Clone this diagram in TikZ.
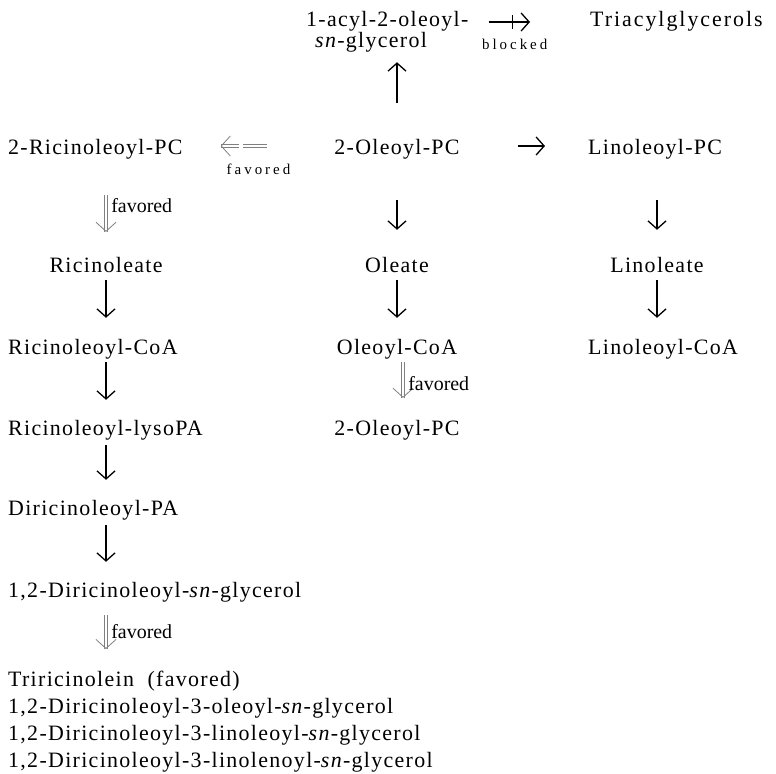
\documentclass[tikz,border=0pt]{standalone}
\usepackage{fontspec}
\setmainfont{Liberation Serif}
\usetikzlibrary{arrows.meta, positioning}
\tikzset{
    chem/.style={ %compound names
      inner sep=0pt,
      anchor=base west,
      text height=15bp, text depth=5bp,
      font=\fontsize{22}{27}\selectfont\addfontfeature{LetterSpace=6},
    },
    chemblock/.style={ %names on several lines
      chem, anchor=north west, align=left,
      text height=, text depth=,
    },
    conv/.style={ %plain conversion
      line width=1.3bp,
      -{Straight Barb[length=8bp, width=18bp]},
    },
    fav/.style={ %favored route (open double arrow)
      draw=gray, double=white, double distance=2.6bp, line width=0.7bp,
      postaction={draw=white, line width=0.2bp,
        -{Straight Barb[length=9bp, width=20bp, line width=0.8bp, color=gray]}},
    },
    favtext/.style={font=\fontsize{20}{24}\selectfont, inner sep=5bp},
    spaced/.style={font=\fontsize{15}{18}\selectfont\addfontfeature{LetterSpace=20}, inner sep=0pt},
}
\begin{document}
\begin{tikzpicture}[x=1bp, y=-1bp]
    \useasboundingbox (0,0) rectangle (776,774);

    % top
    \node[chemblock, font=\fontsize{22}{21}\selectfont\addfontfeature{LetterSpace=6}] (dag) at (306,11)
        {1-acyl-2-oleoyl-\\\hspace*{9bp}\textit{sn}-glycerol};
    \node[chem, font=\fontsize{22}{27}\selectfont\addfontfeature{LetterSpace=9}] (tag) at (590,27) {Triacylglycerols};

    % PC row
    \node[chem] (rpc) at (8,154) {2-Ricinoleoyl-PC};
    \node[chem, anchor=base] (opc) at (397,154) {2-Oleoyl-PC};
    \node[chem] (lpc) at (588,154) {Linoleoyl-PC};

    % fatty acids
    \node[chem, anchor=base] (rlt) at (106,272) {Ricinoleate};
    \node[chem, anchor=base] (olt) at (397,272) {Oleate};
    \node[chem, anchor=base] (llt) at (657,272) {Linoleate};

    % CoA esters
    \node[chem] (rcoa) at (8,354) {Ricinoleoyl-CoA};
    \node[chem, anchor=base] (ocoa) at (397,354) {Oleoyl-CoA};
    \node[chem] (lcoa) at (588,354) {Linoleoyl-CoA};

    % ricinoleate route
    \node[chem] (rlyso) at (8,435) {Ricinoleoyl-lysoPA};
    \node[chem, anchor=base] (opc2) at (397,435) {2-Oleoyl-PC};
    \node[chem] (dipa) at (8,515) {Diricinoleoyl-PA};
    \node[chem] (dag12) at (8,597) {1,2-Diricinoleoyl-\textit{sn}-glycerol};
    \node[chemblock] (tgs) at (8,671)
        {Triricinolein\ \ (favored)\\
         1,2-Diricinoleoyl-3-oleoyl-\textit{sn}-glycerol\\
         1,2-Diricinoleoyl-3-linoleoyl-\textit{sn}-glycerol\\
         1,2-Diricinoleoyl-3-linolenoyl-\textit{sn}-glycerol};

    % horizontal steps
    \draw[conv, shorten <=20bp, shorten >=60bp] (dag.east |- tag.west) --
        coordinate[pos=0.36] (blk)
        node[spaced, pos=0.38, below=16bp] {blocked} (tag.west);
    \draw[line width=1.1bp] ([yshift=7bp]blk) -- ([yshift=-7bp]blk);
    \draw[fav, dash pattern=on 24bp off 4bp on 40bp, shorten <=67bp, shorten >=38bp] ([yshift=3bp]opc.west) --
        node[spaced, midway, below=18bp] {favored} ([yshift=3bp]rpc.east);
    \draw[conv, shorten <=58bp, shorten >=43bp] ([yshift=3bp]opc.east) -- ([yshift=3bp]lpc.west);

    % vertical steps
    \draw[conv, shorten <=36bp, shorten >=10bp] (opc.north) -- (opc.north |- dag.south);
    \draw[conv, shorten <=41bp, shorten >=27bp] (olt |- opc.south) -- (olt.north);
    \draw[conv, shorten <=41bp, shorten >=27bp] (llt |- lpc.south) -- (llt.north);
    \draw[fav, shorten <=36bp, shorten >=25bp] (rlt |- rpc.south) --
        node[favtext, pos=0.48, right] {favored} (rlt.north);
    \draw[conv, shorten <=3bp, shorten >=21bp] (rlt.south) -- (rlt.south |- rcoa.north);
    \draw[conv, shorten <=3bp, shorten >=21bp] (olt.south) -- (ocoa.north);
    \draw[conv, shorten <=3bp, shorten >=21bp] (llt.south) -- (llt.south |- lcoa.north);
    \draw[conv, shorten <=3bp, shorten >=20bp] (rlt |- rcoa.south) -- (rlt |- rlyso.north);
    \draw[fav, shorten <=3bp, shorten >=22bp] ([xshift=6bp]ocoa.south) --
        node[favtext, pos=0.41, right] {favored} ([xshift=6bp]ocoa.south |- opc2.north);
    \draw[conv, shorten <=5bp, shorten >=20bp] (rlt |- rlyso.south) -- (rlt |- dipa.north);
    \draw[conv, shorten <=5bp, shorten >=20bp] (rlt |- dipa.south) -- (rlt |- dag12.north);
    \draw[fav, shorten <=13bp, shorten >=22bp] (rlt |- dag12.south) --
        node[favtext, pos=0.43, right] {favored} (rlt |- tgs.north);
\end{tikzpicture}
\end{document}
